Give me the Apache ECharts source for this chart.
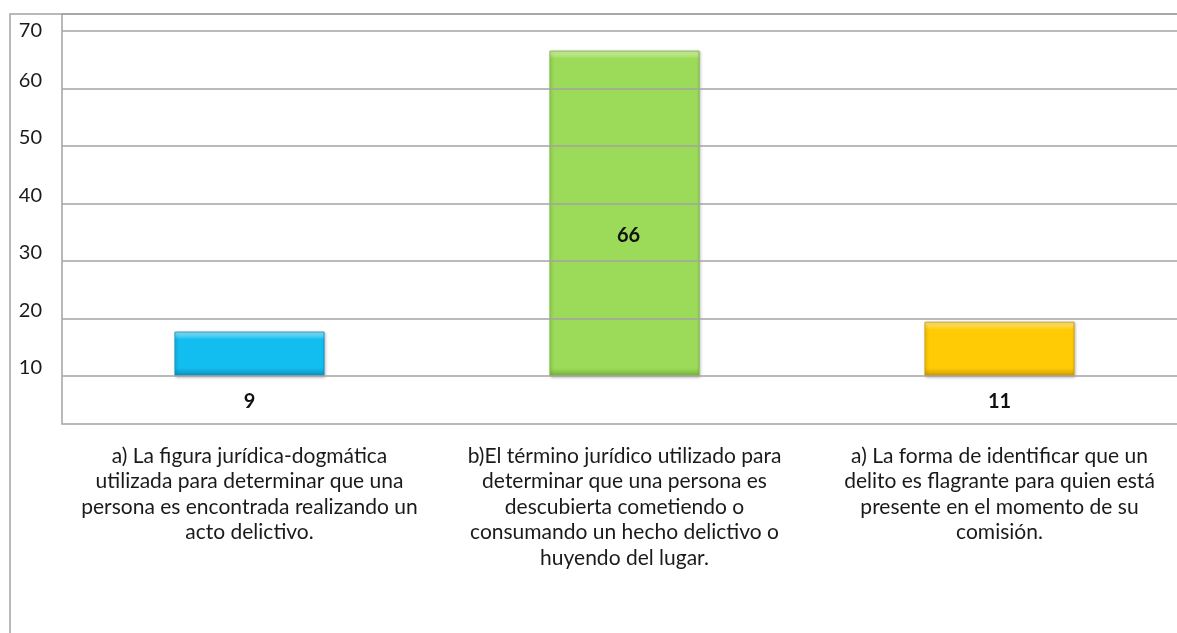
<!DOCTYPE html>
<html>
<head>
<meta charset="utf-8">
<script src="https://cdn.jsdelivr.net/npm/echarts@6/dist/echarts.min.js"></script>
<style>
  html, body { margin: 0; padding: 0; background: #ffffff; }
  #chart { width: 1177px; height: 633px; }
</style>
</head>
<body>
<div id="chart"></div>
<script>
const CATEGORIES = [
  "a) La figura jurídica-dogmática\nutilizada para determinar que una\npersona es encontrada realizando un\nacto delictivo.",
  "b)El término jurídico utilizado para\ndeterminar que una persona es\ndescubierta cometiendo o\nconsumando un hecho delictivo o\nhuyendo del lugar.",
  "a) La forma de identificar que un\ndelito es flagrante para quien está\npresente en el momento de su\ncomisión."
];

const VALUES = [9, 66, 11];

const TICK_LABELS = ["10", "20", "30", "40", "50", "60", "70"];

const AXIS_MAX = 70;

const BAR_COLORS = [
  { light: "#9be7fb", main: "#12bdf0", dark: "#0a8fbd" },
  { light: "#d8f5b0", main: "#9cdb59", dark: "#74b136" },
  { light: "#ffea90", main: "#ffcb05", dark: "#cc9a00" }
];

const FONT = "Lato, 'Liberation Sans', sans-serif";
const LINE = "#a3a3a3";

const step = AXIS_MAX / (TICK_LABELS.length - 1);
const maxValue = Math.max(...VALUES);

function barGradient(value, c) {
  const f = Math.min(0.3, 1.6 / value);
  return new echarts.graphic.LinearGradient(0, 0, 0, 1, [
    { offset: 0, color: c.light },
    { offset: f, color: c.main },
    { offset: 1 - f, color: c.main },
    { offset: 1, color: c.dark }
  ]);
}

const chart = echarts.init(document.getElementById("chart"), null, { renderer: "canvas" });

chart.setOption({
  backgroundColor: "#ffffff",
  animation: false,
  textStyle: { fontFamily: FONT },
  grid: [
    { left: 62, width: 1125, top: 31, height: 345, outerBoundsMode: "none" },
    { left: 62, width: 1200, top: 14, height: 410, outerBoundsMode: "none", show: true, borderColor: LINE, borderWidth: 1.5, backgroundColor: "transparent" },
    { left: 10, width: 1300, top: 14, height: 700, outerBoundsMode: "none", show: true, borderColor: LINE, borderWidth: 1.5, backgroundColor: "transparent" }
  ],
  xAxis: [
    {
      gridIndex: 0,
      type: "category",
      data: CATEGORIES,
      axisLine: { show: false },
      axisTick: { show: false },
      axisLabel: { show: false }
    },
    {
      gridIndex: 1,
      type: "category",
      data: CATEGORIES,
      axisLine: { show: false },
      axisTick: { show: false },
      axisLabel: { show: false }
    },
    {
      gridIndex: 0,
      type: "category",
      data: CATEGORIES,
      position: "bottom",
      offset: 48,
      axisLine: { show: false },
      axisTick: { show: false },
      axisLabel: {
        interval: 0,
        margin: 19,
        color: "#1a1a1a",
        fontFamily: FONT,
        fontSize: 21,
        lineHeight: 25.5,
        align: "center"
      }
    },
    { gridIndex: 2, type: "value", show: false }
  ],
  yAxis: [
    {
      gridIndex: 0,
      type: "value",
      min: 0,
      max: AXIS_MAX,
      interval: step,
      z: 4,
      axisLine: { show: false },
      axisTick: { show: false },
      splitLine: { show: true, lineStyle: { color: LINE, width: 1.5 } },
      axisLabel: {
        margin: 20,
        color: "#1a1a1a",
        fontFamily: FONT,
        fontSize: 20,
        formatter: (v) => {
          const i = Math.round(v / step);
          const txt = TICK_LABELS[i];
          return i === TICK_LABELS.length - 1 ? "{top|" + txt + "}" : "{up|" + txt + "}";
        },
        rich: {
          top: { fontFamily: FONT, fontSize: 20, color: "#1a1a1a", padding: [0, 0, 0, 0] },
          up: { fontFamily: FONT, fontSize: 20, color: "#1a1a1a", padding: [0, 0, 16, 0] }
        }
      }
    },
    { gridIndex: 1, type: "value", show: false },
    { gridIndex: 2, type: "value", show: false }
  ],
  series: [
    {
      type: "bar",
      xAxisIndex: 0,
      yAxisIndex: 0,
      barWidth: "40%",
      data: VALUES.map((v, i) => ({
        value: v,
        itemStyle: {
          color: barGradient(v, BAR_COLORS[i]),
          borderColor: BAR_COLORS[i].dark,
          borderWidth: 0.8,
          shadowBlur: 3,
          shadowColor: "rgba(0,0,0,0.3)",
          shadowOffsetX: 1,
          shadowOffsetY: 1
        },
        label: v === maxValue
          ? { position: "inside", offset: [4, 22] }
          : { position: "bottom", distance: 16 }
      })),
      label: {
        show: true,
        color: "#111111",
        fontFamily: FONT,
        fontWeight: "bold",
        fontSize: 20
      }
    }
  ]
});
</script>
</body>
</html>
